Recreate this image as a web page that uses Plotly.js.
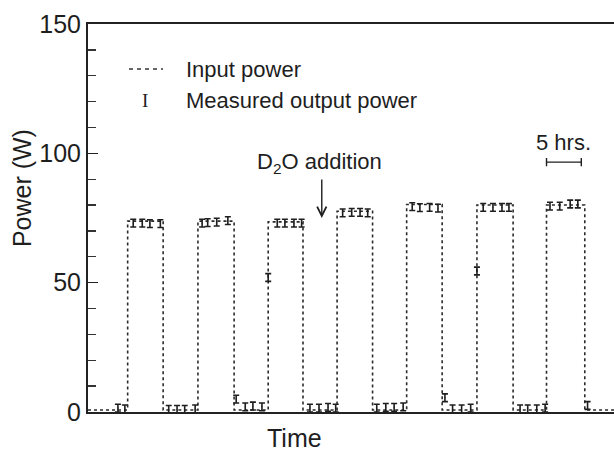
<!DOCTYPE html>
<html>
<head>
<meta charset="utf-8">
<script src="https://cdn.plot.ly/plotly-3.0.1.min.js"></script>
<style>
  html, body { margin: 0; padding: 0; background: #fff; }
  #chart { width: 614px; height: 462px; }
</style>
</head>
<body>
<div id="chart"></div>
<script>
// ---- Data (time in hours, power in W) ----
const riseTimes = [5.7, 15.8, 25.9, 35.8, 45.8, 55.9, 65.9];
const fallTimes = [10.8, 21.0, 30.9, 40.9, 50.9, 61.1, 71.4];
const highPower = [73.8, 73.8, 73.5, 77.6, 80.2, 80.0, 80.0];
const lowPower = 0.8;
const timeStart = 0;
const timeEnd = 75.6;

const outTime = [
  4.3, 5.3,
  6.5, 7.8, 8.9, 10.4,
  11.6, 12.8, 13.9, 15.4,
  16.4, 17.2, 18.5, 20.1,
  21.3, 22.6, 23.7, 25.0,
  25.9, 27.2, 28.3, 29.6, 30.7,
  31.9, 33.2, 34.5, 35.6,
  36.6, 37.9, 39.1, 40.2,
  41.5, 42.8, 44.0, 45.3,
  46.6, 47.7, 49.1, 50.3,
  51.3, 52.4, 53.7, 55.0,
  55.9, 56.8, 58.2, 59.5, 60.5,
  62.1, 63.2, 64.5, 65.7,
  66.4, 67.8, 69.3, 70.4,
  71.8
];
const outPower = [
  1.5, 1.2,
  73.0, 73.0, 72.8, 72.8,
  1.0, 1.0, 1.0, 1.2,
  73.0, 73.2, 73.4, 74.0,
  5.0, 2.0, 2.3, 2.0,
  52.0, 73.0, 73.0, 73.0, 73.0,
  1.5, 1.5, 1.8, 1.5,
  77.0, 77.2, 77.2, 77.0,
  1.5, 1.8, 1.8, 2.0,
  79.4, 79.0, 79.1, 78.8,
  5.5, 1.2, 1.2, 1.5,
  54.5, 79.1, 79.1, 79.1, 79.1,
  1.2, 1.2, 1.2, 1.5,
  79.6, 79.6, 80.4, 80.4,
  2.5
];
const outErr = 1.5;

const scaleBarStart = 65.9;
const scaleBarHours = 5;
const scaleBarLevel = 96.6;

const yTickVals = [0, 50, 100, 150];
const yTickText = ['0', '50', '100', '150'];

// ---- Build input power step line ----
const inX = [timeStart], inY = [lowPower];
for (let i = 0; i < riseTimes.length; i++) {
  inX.push(riseTimes[i], riseTimes[i], fallTimes[i], fallTimes[i]);
  inY.push(lowPower, highPower[i], highPower[i], lowPower);
}
inX.push(timeEnd); inY.push(lowPower);

const FONT = 'Liberation Sans, Arial, Helvetica, sans-serif';
const INK = '#1e1e1e';

const traces = [
  {
    x: inX, y: inY, type: 'scatter', mode: 'lines', name: 'Input power',
    line: { color: '#2a2a2a', width: 1.6, dash: '3px,3px' },
    hoverinfo: 'skip', showlegend: false
  },
  {
    x: outTime, y: outPower, type: 'scatter', mode: 'markers', name: 'Measured output power',
    marker: { size: 1, color: INK },
    error_y: { type: 'constant', value: outErr, color: INK, thickness: 1.6, width: 3 },
    showlegend: false
  },
  {
    // 5 hrs scale bar
    x: [scaleBarStart, scaleBarStart + scaleBarHours],
    y: [scaleBarLevel, scaleBarLevel],
    type: 'scatter', mode: 'lines',
    line: { color: INK, width: 1.4 },
    error_y: { type: 'constant', value: 1.6, color: INK, thickness: 1.4, width: 0 },
    showlegend: false, hoverinfo: 'skip'
  }
];

const layout = {
  width: 614, height: 462,
  margin: { l: 88, r: 0, t: 24, b: 50 },
  paper_bgcolor: '#fff', plot_bgcolor: '#fff',
  showlegend: false,
  font: { family: FONT, color: INK },
  xaxis: {
    range: [timeStart, timeEnd],
    showgrid: false, zeroline: false,
    showline: true, linecolor: '#222', linewidth: 2, mirror: true,
    ticks: '', showticklabels: false
  },
  yaxis: {
    range: [0, 150],
    showgrid: false, zeroline: false,
    showline: true, linecolor: '#222', linewidth: 2,
    tickvals: yTickVals, ticktext: yTickText,
    ticks: 'inside', ticklen: 10, tickwidth: 1.5, tickcolor: '#222',
    minor: { dtick: 10, ticks: 'inside', ticklen: 8, tickwidth: 1.3, tickcolor: '#333' },
    tickfont: { family: FONT, size: 25, color: INK }
  },
  shapes: [
    { type: 'line', xref: 'paper', yref: 'paper', x0: 0.078, x1: 0.1426, y0: 0.884, y1: 0.884,
      line: { color: '#333', width: 1.4, dash: '4px,4px' } }
  ],
  annotations: [
    { text: 'Power (W)', xref: 'paper', yref: 'paper', x: -0.1255, y: 0.577,
      textangle: -90, showarrow: false, font: { size: 25, family: FONT, color: INK },
      xanchor: 'center', yanchor: 'middle' },
    { text: 'Time', xref: 'paper', yref: 'paper', x: 0.3935, y: -0.067,
      showarrow: false, font: { size: 25, family: FONT, color: INK },
      xanchor: 'center', yanchor: 'middle' },
    { text: 'Input power', xref: 'paper', yref: 'paper', x: 0.1825, y: 0.884,
      showarrow: false, xanchor: 'left', yanchor: 'middle', font: { size: 22, family: FONT, color: INK } },
    { text: 'I', xref: 'paper', yref: 'paper', x: 0.108, y: 0.804,
      showarrow: false, xanchor: 'center', yanchor: 'middle',
      font: { size: 19, family: 'Liberation Serif, DejaVu Serif, serif', color: INK } },
    { text: 'Measured output power', xref: 'paper', yref: 'paper', x: 0.1825, y: 0.804,
      showarrow: false, xanchor: 'left', yanchor: 'middle', font: { size: 22, family: FONT, color: INK } },
    { text: 'D<sub>2</sub>O addition', xref: 'x', yref: 'y', x: 33.3, y: 96.3,
      showarrow: false, xanchor: 'center', yanchor: 'middle', font: { size: 22, family: FONT, color: INK } },
    { text: '', xref: 'x', yref: 'y', x: 33.6, y: 75.0, ax: 0, ay: -40,
      showarrow: true, arrowhead: 5, arrowsize: 1.3, arrowwidth: 1.4, arrowcolor: INK, standoff: 0 },
    { text: '5 hrs.', xref: 'x', yref: 'y', x: 68.3, y: 104,
      showarrow: false, xanchor: 'center', yanchor: 'middle', font: { size: 22, family: FONT, color: INK } }
  ]
};

Plotly.newPlot('chart', traces, layout, { displayModeBar: false, staticPlot: true });
</script>
</body>
</html>
